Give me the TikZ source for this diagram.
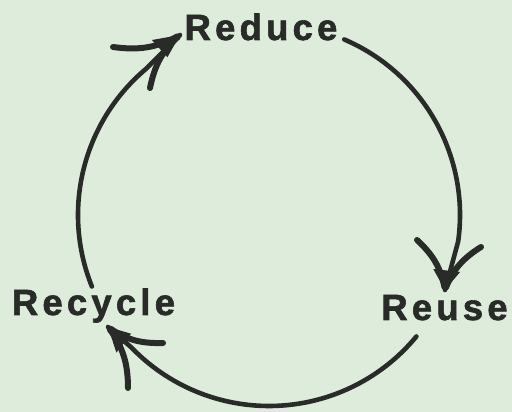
\documentclass[tikz,border=0pt]{standalone}
\usepackage{fontspec}
\setmainfont{Liberation Sans}
\newfontfamily\labelfont[LetterSpace=11.5,BoldFeatures={FakeBold=1.6}]{Liberation Sans}
\usetikzlibrary{calc}
\definecolor{bg}{RGB}{222,236,220}
\definecolor{ink}{RGB}{40,43,40}
\newcommand\barbhd[3]{%
  \fill[ink] (#1) -- ($(#1)!0.42!(#2)$) -- ($(#1)!0.42!(#3)$) -- cycle;
  \draw[barbarm] (#2) to[bend left=18] (#1);
  \draw[barbarm] (#3) to[bend right=18] (#1);
}
\begin{document}
\begin{tikzpicture}[x=1pt,y=1pt,
  cyc/.style={draw=ink,line width=4.6pt,line cap=round},
  barbarm/.style={draw=ink,line width=6pt,line cap=round,shorten >=3pt},
  lbl/.style={text=ink,font=\labelfont\bfseries\fontsize{36.5}{36.5}\selectfont,anchor=base,inner sep=0pt}]
\fill[bg] (0,0) rectangle (512,412);
\useasboundingbox (0,0) rectangle (512,412);
\node[lbl] (reduce) at (261,372) {Reduce};
\node[lbl] (reuse) at (444.5,92) {Reuse};
\node[lbl] (recycle) at (93.5,97) {Recycle};
\coordinate (c) at (269,197);
% arc 1: Reduce -> Reuse
\coordinate (s1) at ($(c)+(66.8:191)$);
\coordinate (t1) at (445,122);
\coordinate (r1) at (417,172);
\coordinate (l1) at (481,165);
% arc 2: Reuse -> Recycle
\coordinate (s2) at ($(c)+(-39.5:191)$);
\coordinate (t2) at (108,85);
\coordinate (r2) at (163,69);
\coordinate (l2) at (128,24);
% arc 3: Recycle -> Reduce
\coordinate (s3) at ($(c)+(202:191)$);
\coordinate (t3) at (180,377);
\coordinate (r3) at (150,324);
\coordinate (l3) at (113,365);
\draw[cyc] (s1) arc[start angle=66.8,end angle=-8,radius=191] -- (t1);
\draw[cyc] (s2) arc[start angle=-39.5,end angle=-136,radius=191] -- (t2);
\draw[cyc] (s3) arc[start angle=202,end angle=130,radius=191] -- (t3);
\barbhd{t1}{r1}{l1}
\barbhd{t2}{r2}{l2}
\barbhd{t3}{r3}{l3}
\end{tikzpicture}
\end{document}
